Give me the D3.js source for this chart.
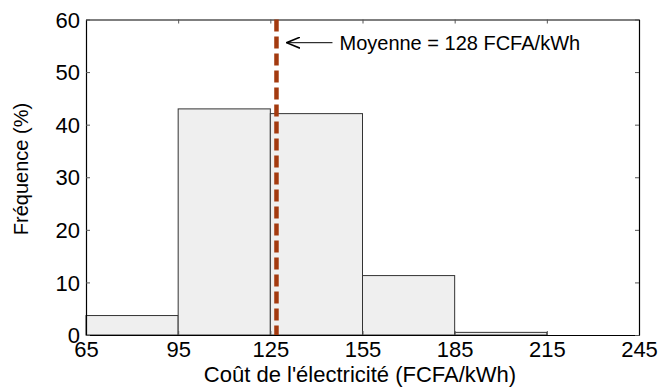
<!DOCTYPE html>
<html>
<head>
<meta charset="utf-8">
<script src="https://cdn.jsdelivr.net/npm/d3@7"></script>
<style>
  body { margin: 0; background: #fff; }
  text { font-family: Arial, "Liberation Sans", sans-serif; fill: #000; }
</style>
</head>
<body>
<div id="chart"></div>
<script>
// Histogram bins (FCFA/kWh) and frequencies (%)
const binStarts = [65, 95, 125, 155, 185, 215];
const binWidth = 30;
const frequencies = [3.7, 43.0, 42.1, 11.3, 0.5, 0];
const xTicks = [65, 95, 125, 155, 185, 215, 245];
const yTicks = [0, 10, 20, 30, 40, 50, 60];
const meanValue = 127;
const meanLabel = "Moyenne = 128 FCFA/kWh";

const W = 662, H = 387;
const margin = { top: 19.5, right: 23, bottom: 52, left: 86 };
const width = W - margin.left - margin.right;
const height = H - margin.top - margin.bottom;

const svg = d3.select("#chart").append("svg")
  .attr("width", W).attr("height", H);

const g = svg.append("g")
  .attr("transform", `translate(${margin.left},${margin.top})`);

const x = d3.scaleLinear().domain([65, 245]).range([0, width]);
const y = d3.scaleLinear().domain([0, 60]).range([height, 0]);

// Bars
g.selectAll(".bar")
  .data(binStarts.map((b, i) => ({ start: b, value: frequencies[i] })))
  .enter().append("rect")
  .attr("class", "bar")
  .attr("x", d => x(d.start))
  .attr("y", d => y(d.value))
  .attr("width", d => x(d.start + binWidth) - x(d.start))
  .attr("height", d => y(0) - y(d.value))
  .attr("fill", "#efefef")
  .attr("stroke", "#333")
  .attr("stroke-width", 1);

// Axes (ticks inward, mirrored)
const tickLen = 4;
const bottomAxis = g.append("g")
  .attr("transform", `translate(0,${height})`)
  .call(d3.axisBottom(x).tickValues(xTicks).tickSizeInner(-tickLen).tickSizeOuter(0).tickPadding(6));
const topAxis = g.append("g")
  .call(d3.axisTop(x).tickValues(xTicks).tickSizeInner(-tickLen).tickSizeOuter(0).tickFormat(""));
const leftAxis = g.append("g")
  .call(d3.axisLeft(y).tickValues(yTicks).tickSizeInner(-tickLen).tickSizeOuter(0).tickPadding(6));
const rightAxis = g.append("g")
  .attr("transform", `translate(${width},0)`)
  .call(d3.axisRight(y).tickValues(yTicks).tickSizeInner(-tickLen).tickSizeOuter(0).tickFormat(""));

[bottomAxis, topAxis, leftAxis, rightAxis].forEach(a => {
  a.select(".domain").attr("stroke", "#000").attr("stroke-width", 1.2);
  a.selectAll(".tick line").attr("stroke", "#555");
  a.selectAll(".tick text")
    .style("font-family", "Arial, 'Liberation Sans', sans-serif")
    .style("font-size", "22px")
    .attr("fill", "#000");
});
bottomAxis.selectAll(".tick text").attr("dy", "0.71em");
leftAxis.selectAll(".tick text").attr("dy", "0.35em");

// Mean line
g.append("line")
  .attr("x1", x(meanValue)).attr("x2", x(meanValue))
  .attr("y1", y(60)).attr("y2", y(0))
  .attr("stroke", "#a33a0f")
  .attr("stroke-width", 4.5)
  .attr("stroke-dasharray", "12,5");

// Arrow + annotation
svg.append("defs").append("marker")
  .attr("id", "arrow")
  .attr("viewBox", "0 0 14 12")
  .attr("refX", 0.5).attr("refY", 6)
  .attr("markerWidth", 14).attr("markerHeight", 12)
  .attr("markerUnits", "userSpaceOnUse")
  .attr("orient", "auto")
  .append("path")
  .attr("d", "M14,0.5 L0.5,6 L14,11.5")
  .attr("fill", "none")
  .attr("stroke", "#000")
  .attr("stroke-width", 1.6);

const arrowY = 42.7 - margin.top;
g.append("line")
  .attr("x1", x(meanValue) + 10).attr("x2", x(meanValue) + 56)
  .attr("y1", arrowY).attr("y2", arrowY)
  .attr("stroke", "#000").attr("stroke-width", 1)
  .attr("marker-start", "url(#arrow)");

g.append("text")
  .attr("x", x(meanValue) + 63)
  .attr("y", arrowY + 7)
  .style("font-size", "20px")
  .text(meanLabel);

// Axis titles
svg.append("text")
  .attr("x", 360)
  .attr("y", 382)
  .attr("text-anchor", "middle")
  .style("font-size", "22px")
  .text("Coût de l'électricité (FCFA/kWh)");

svg.append("text")
  .attr("transform", `translate(28,169) rotate(-90)`)
  .attr("text-anchor", "middle")
  .style("font-size", "20px")
  .text("Fréquence (%)");
</script>
</body>
</html>
